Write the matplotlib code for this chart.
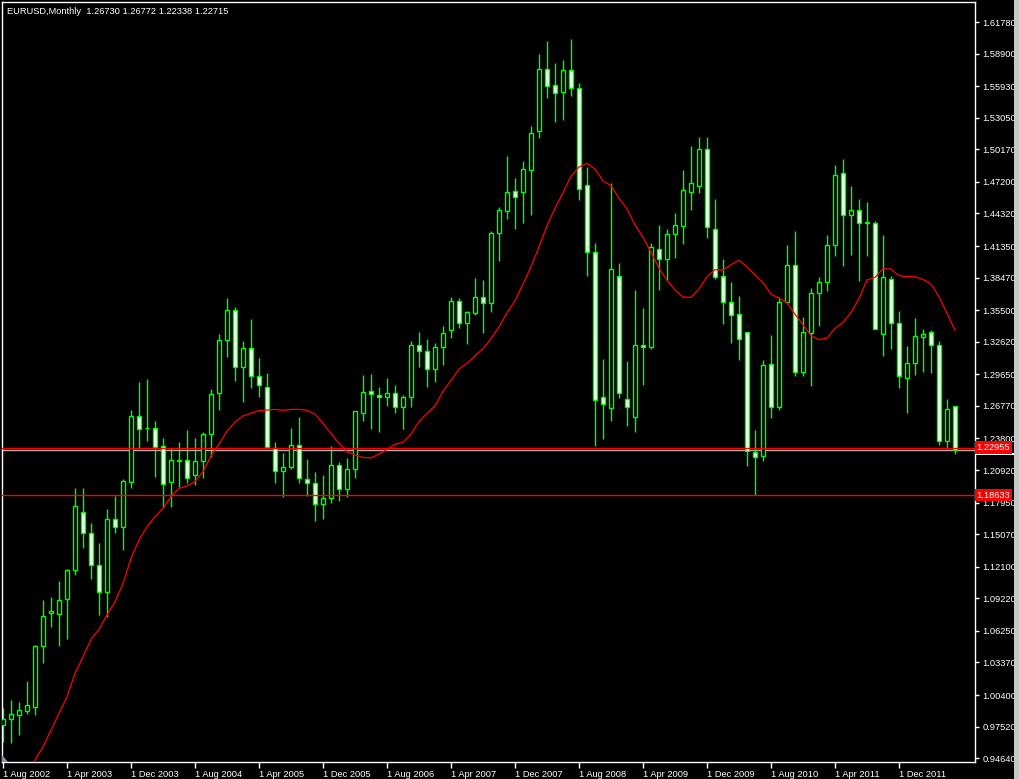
import matplotlib
matplotlib.use("Agg")
import matplotlib.pyplot as plt
from matplotlib.patches import Polygon, Rectangle
import matplotlib.transforms as mtransforms

plt.rcParams['font.family'] = ['Liberation Sans', 'DejaVu Sans']

# monthly EURUSD candles, Aug 2002 .. Jul 2012
opens = [0.9764, 0.9819, 0.9855, 0.9894, 0.9934, 1.0490, 1.0786, 1.0776, 1.0913, 1.1177,
         1.1706, 1.1515, 1.1223, 1.0977, 1.1643, 1.1570, 1.1980, 1.2585, 1.2478, 1.2472,
         1.2308, 1.1980, 1.2172, 1.2180, 1.2049, 1.2171, 1.2418, 1.2797, 1.3275, 1.3549,
         1.3029, 1.3202, 1.2947, 1.2846, 1.2296, 1.2081, 1.2118, 1.2324, 1.2007, 1.1971,
         1.1779, 1.1834, 1.2136, 1.1917, 1.2105, 1.2615, 1.2810, 1.2774, 1.2755, 1.2792,
         1.2670, 1.2755, 1.3230, 1.3175, 1.3010, 1.3212, 1.3366, 1.3630, 1.3436, 1.3527,
         1.3667, 1.3612, 1.4257, 1.4457, 1.4634, 1.4631, 1.4831, 1.5187, 1.5747, 1.5601,
         1.5542, 1.5738, 1.5573, 1.4689, 1.4076, 1.2755, 1.2655, 1.3859, 1.2737, 1.2578,
         1.3229, 1.3217, 1.4104, 1.4019, 1.4248, 1.4321, 1.4630, 1.4685, 1.5017, 1.4287,
         1.3859, 1.3624, 1.3512, 1.3348, 1.2259, 1.2220, 1.3056, 1.2664, 1.3622, 1.3959,
         1.2983, 1.3339, 1.3704, 1.3808, 1.4141, 1.4798, 1.4415, 1.4461, 1.4352, 1.4348,
         1.3330, 1.3837, 1.3430, 1.2928, 1.3065, 1.3308, 1.3348, 1.3229, 1.2354, 1.26730]
highs = [0.9922, 0.9995, 0.9979, 1.0168, 1.0496, 1.0907, 1.0937, 1.1080, 1.1185, 1.1931,
         1.1931, 1.1606, 1.1430, 1.1737, 1.1855, 1.2007, 1.2639, 1.2895, 1.2922, 1.2539,
         1.2381, 1.2290, 1.2347, 1.2457, 1.2381, 1.2436, 1.2828, 1.3332, 1.3658, 1.3576,
         1.3269, 1.3469, 1.3111, 1.2977, 1.2345, 1.2247, 1.2472, 1.2576, 1.2193, 1.2074,
         1.2047, 1.2311, 1.2162, 1.2199, 1.2627, 1.2956, 1.2965, 1.2846, 1.2929, 1.2865,
         1.2773, 1.3269, 1.3354, 1.3284, 1.3248, 1.3406, 1.3667, 1.3658, 1.3542, 1.3841,
         1.3825, 1.4272, 1.4488, 1.4956, 1.4756, 1.4910, 1.5229, 1.5886, 1.6005, 1.5807,
         1.5831, 1.6023, 1.5619, 1.4853, 1.4158, 1.3105, 1.4707, 1.3977, 1.3087, 1.3734,
         1.3570, 1.4158, 1.4323, 1.4290, 1.4433, 1.4825, 1.5047, 1.5132, 1.5132, 1.4564,
         1.4017, 1.3807, 1.3679, 1.3350, 1.2457, 1.3095, 1.3323, 1.3667, 1.4143, 1.4272,
         1.3485, 1.3750, 1.3855, 1.4234, 1.4871, 1.4926, 1.4680, 1.4561, 1.4537, 1.4363,
         1.4234, 1.3862, 1.3542, 1.3223, 1.3478, 1.3378, 1.3369, 1.3269, 1.2740, 1.26772]
lows = [0.9612, 0.9600, 0.9675, 0.9864, 0.9858, 1.0329, 1.0658, 1.0490, 1.0548, 1.1135,
        1.1384, 1.1101, 1.0769, 1.0754, 1.1521, 1.1363, 1.1925, 1.2290, 1.2357, 1.2031,
        1.1752, 1.1758, 1.1940, 1.1977, 1.1955, 1.2016, 1.2214, 1.2639, 1.3126, 1.2907,
        1.2715, 1.2842, 1.2755, 1.2290, 1.1971, 1.1849, 1.2104, 1.1971, 1.1855, 1.1630,
        1.1648, 1.1788, 1.1812, 1.1849, 1.2022, 1.2542, 1.2463, 1.2439, 1.2673, 1.2615,
        1.2469, 1.2664, 1.3034, 1.2852, 1.2897, 1.3053, 1.3299, 1.3390, 1.3241, 1.3506,
        1.3344, 1.3536, 1.3998, 1.4381, 1.4290, 1.4348, 1.4418, 1.5123, 1.5488, 1.5269,
        1.5284, 1.5503, 1.4555, 1.3864, 1.2314, 1.2375, 1.2542, 1.2752, 1.2496, 1.2442,
        1.2867, 1.3196, 1.3734, 1.3825, 1.4028, 1.4153, 1.4463, 1.4616, 1.4205, 1.3834,
        1.3424, 1.3254, 1.3096, 1.2132, 1.1864, 1.2177, 1.2569, 1.2640, 1.3611, 1.2952,
        1.2952, 1.2861, 1.3408, 1.3726, 1.4044, 1.3956, 1.4051, 1.3819, 1.4040, 1.3375,
        1.3128, 1.3196, 1.2843, 1.2615, 1.2958, 1.2989, 1.2980, 1.2320, 1.2281, 1.22338]
closes = [0.9819, 0.9867, 0.9903, 0.9949, 1.0487, 1.0761, 1.0807, 1.0907, 1.1177, 1.1764,
          1.1515, 1.1223, 1.0977, 1.1643, 1.1576, 1.1992, 1.2585, 1.2463, 1.2472, 1.2305,
          1.1967, 1.2180, 1.2184, 1.2016, 1.2171, 1.2418, 1.2783, 1.3275, 1.3549, 1.3029,
          1.3202, 1.2947, 1.2865, 1.2299, 1.2081, 1.2118, 1.2324, 1.2016, 1.1971, 1.1779,
          1.1834, 1.2136, 1.1917, 1.2105, 1.2627, 1.2801, 1.2783, 1.2755, 1.2792, 1.2664,
          1.2755, 1.3230, 1.3180, 1.3010, 1.3212, 1.3339, 1.3630, 1.3436, 1.3530, 1.3667,
          1.3612, 1.4251, 1.4461, 1.4625, 1.4585, 1.4837, 1.5163, 1.5747, 1.5598, 1.5533,
          1.5738, 1.5573, 1.4652, 1.4083, 1.2728, 1.2691, 1.3923, 1.2792, 1.2664, 1.3229,
          1.3217, 1.4122, 1.4019, 1.4242, 1.4324, 1.4643, 1.4707, 1.5017, 1.4312, 1.3855,
          1.3627, 1.3509, 1.3284, 1.2266, 1.2214, 1.3047, 1.2664, 1.3622, 1.3959, 1.2983,
          1.3348, 1.3704, 1.3804, 1.4141, 1.4786, 1.4415, 1.4461, 1.4342, 1.4342, 1.3375,
          1.3849, 1.3430, 1.2947, 1.3065, 1.3311, 1.3330, 1.3229, 1.2354, 1.2646, 1.22715]

# red moving average, starts at the 4th candle (earlier values are off the chart)
ma_start = 3
ma_values = [0.9300, 0.9447, 0.9569, 0.9721, 0.9873, 1.0025, 1.0238, 1.0390, 1.0548, 1.0639,
             1.0770, 1.0891, 1.1059, 1.1287, 1.1454, 1.1575, 1.1667, 1.1743, 1.1849, 1.1925,
             1.1946, 1.1986, 1.2077, 1.2220, 1.2330, 1.2446, 1.2528, 1.2585, 1.2610, 1.2633,
             1.2639, 1.2645, 1.2636, 1.2645, 1.2645, 1.2636, 1.2603, 1.2517, 1.2426, 1.2336,
             1.2259, 1.2229, 1.2208, 1.2202, 1.2238, 1.2281, 1.2327, 1.2345, 1.2420, 1.2535,
             1.2608, 1.2678, 1.2810, 1.2910, 1.3013, 1.3065, 1.3135, 1.3198, 1.3290, 1.3399,
             1.3527, 1.3636, 1.3789, 1.3946, 1.4129, 1.4320, 1.4479, 1.4622, 1.4772, 1.4855,
             1.4889, 1.4837, 1.4728, 1.4686, 1.4570, 1.4472, 1.4327, 1.4214, 1.4078, 1.3932,
             1.3822, 1.3734, 1.3670, 1.3667, 1.3743, 1.3855, 1.3919, 1.3916, 1.3965, 1.4005,
             1.3945, 1.3874, 1.3800, 1.3697, 1.3658, 1.3618, 1.3512, 1.3417, 1.3317, 1.3281,
             1.3296, 1.3384, 1.3439, 1.3527, 1.3658, 1.3825, 1.3849, 1.3928, 1.3925, 1.3864,
             1.3855, 1.3855, 1.3831, 1.3789, 1.3673, 1.3521, 1.3369]

hlines_red = [1.22955, 1.18633]
bid_price = 1.22715

date_ticks = [0, 8, 16, 24, 32, 40, 48, 56, 64, 72, 80, 88, 96, 104, 112]
date_labels = ['1 Aug 2002', '1 Apr 2003', '1 Dec 2003', '1 Aug 2004', '1 Apr 2005',
               '1 Dec 2005', '1 Aug 2006', '1 Apr 2007', '1 Dec 2007', '1 Aug 2008',
               '1 Apr 2009', '1 Dec 2009', '1 Aug 2010', '1 Apr 2011', '1 Dec 2011']
price_ticks = [1.61780, 1.58900, 1.55930, 1.53050, 1.50170, 1.47200, 1.44320, 1.41350,
               1.38470, 1.35500, 1.32620, 1.29650, 1.26770, 1.23800, 1.20920, 1.17950,
               1.15070, 1.12100, 1.09220, 1.06250, 1.03370, 1.00400, 0.97520, 0.94640]

title = "EURUSD,Monthly  1.26730 1.26772 1.22338 1.22715"

green = '#00ff00'
W, H = 1020, 779
LW = 1.0  # about 1.4 px, so a line always fills one whole pixel
fig = plt.figure(figsize=(W / 100, H / 100), dpi=100, facecolor='black')
ax = fig.add_axes([2 / W, (H - 762) / H, 973 / W, 760 / H], facecolor='black')

n = len(opens)
xs = list(range(n))

# wicks
ax.vlines(xs, lows, highs, color=green, linewidth=LW, zorder=2, snap=True)

# bodies: bull hollow (black), bear white
bottoms = [min(o, c) for o, c in zip(opens, closes)]
heights = [max(abs(c - o), 0.0004) for o, c in zip(opens, closes)]
faces = ['black' if c > o else 'white' for o, c in zip(opens, closes)]
ax.bar(xs, heights, bottom=bottoms, width=0.6, color=faces, edgecolor=green,
       linewidth=LW, zorder=3, snap=True)

# moving average
ax.plot(list(range(ma_start, ma_start + len(ma_values))), ma_values, color='#ff0000',
        linewidth=0.9, zorder=4)

# horizontal lines
ax.axhline(bid_price, color='#b0b0b0', linewidth=LW, zorder=1, snap=True)
for p in hlines_red:
    ax.axhline(p, color='#ff0000', linewidth=LW, zorder=5, snap=True)

ax.set_xlim(-0.125, 121.5)
ax.set_ylim(0.94292, 1.63604)

for s in ax.spines.values():
    s.set_color('white')
    s.set_linewidth(LW)

ax.yaxis.tick_right()
ax.set_yticks(price_ticks)
ax.set_yticklabels(['%.5f' % p for p in price_ticks])
ax.set_xticks(date_ticks)
ax.set_xticklabels(date_labels)
ax.tick_params(axis='y', colors='white', labelsize=6.7, length=3, width=LW, pad=2.5)
ax.tick_params(axis='x', colors='white', labelsize=6.7, length=4, width=LW, pad=1.5)
plt.setp(ax.get_xticklabels(), ha='left')

# price labels for the lines on the right scale
trans = mtransforms.blended_transform_factory(ax.transAxes, ax.transData)
dpp = (1.63604 - 0.94292) / 760  # price per pixel
ax.add_patch(Rectangle((1.001, 1.22955 - 7 * dpp), 38 / 973, 2 * dpp, transform=trans,
                       facecolor='white', edgecolor='none', clip_on=False, zorder=8))
for p in hlines_red:
    ax.text(1.0015, p, '%.5f' % p, transform=trans, fontsize=6.7, color='white',
            va='center', ha='left', zorder=10, clip_on=False,
            bbox=dict(facecolor='#ff0000', edgecolor='none', pad=1.3))

# title
ax.text(0.005, 0.988, title, transform=ax.transAxes, fontsize=6.7, color='white',
        va='center', ha='left')

# small grey marker in the lower left corner
ax.add_patch(Polygon([(0, 0), (6 / 973, 0), (0, 7 / 760)], closed=True,
                     transform=ax.transAxes, facecolor='#8c96a0', edgecolor='none', zorder=6))

# scroll strip on the right edge
fig.patches.append(Rectangle((1014 / W, 0), 6 / W, 1, transform=fig.transFigure,
                             facecolor='#c8c8c8', edgecolor='none'))

fig.savefig('out.png', dpi=100, facecolor='black')
